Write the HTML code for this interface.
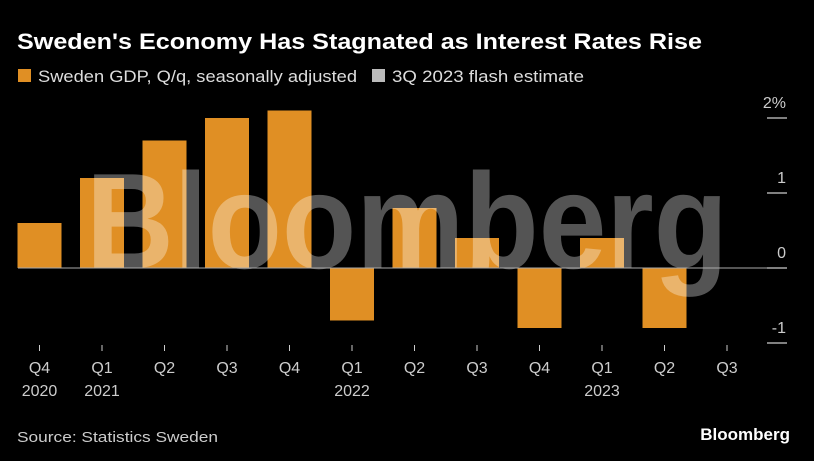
<!DOCTYPE html>
<html><head><meta charset="utf-8"><style>
body{margin:0;background:#000;width:814px;height:461px;overflow:hidden;font-family:"Liberation Sans",sans-serif;color:#fff}
</style></head><body>
<svg width="814" height="461" style="position:absolute;left:0;top:0">
<text x="17" y="49" font-size="22" font-weight="bold" fill="#fff" textLength="685" lengthAdjust="spacingAndGlyphs">Sweden's Economy Has Stagnated as Interest Rates Rise</text>
<rect x="18" y="69" width="13" height="13" fill="#e08f24"/>
<text x="38" y="82" font-size="17" fill="#ddd" textLength="319" lengthAdjust="spacingAndGlyphs">Sweden GDP, Q/q, seasonally adjusted</text>
<rect x="372" y="69" width="13" height="13" fill="#bbb"/>
<text x="392" y="82" font-size="17" fill="#ddd" textLength="192" lengthAdjust="spacingAndGlyphs">3Q 2023 flash estimate</text>
<g id="bars"></g>
<text x="86" y="268" font-size="136" font-weight="bold" fill="#fff" fill-opacity="0.33" textLength="642" lengthAdjust="spacingAndGlyphs">Bloomberg</text>
<g id="axis"></g>
<text x="17" y="442" font-size="15" fill="#ccc" textLength="201" lengthAdjust="spacingAndGlyphs">Source: Statistics Sweden</text>
<text x="790" y="440" font-size="17" font-weight="bold" fill="#fff" text-anchor="end">Bloomberg</text>
</svg>
<script>
const quarters=["Q4","Q1","Q2","Q3","Q4","Q1","Q2","Q3","Q4","Q1","Q2","Q3"];
const years=["2020","2021","","","","2022","","","","2023","",""];
const gdp=[0.6,1.2,1.7,2.0,2.1,-0.7,0.8,0.4,-0.8,0.4,-0.8,null];
const yTicks=[2,1,0,-1];
const yLabels=["2%","1","0","-1"];
const NS="http://www.w3.org/2000/svg";
const y=v=>268-v*75;
const xc=i=>39.5+i*62.5;
function mk(t,a,p){const e=document.createElementNS(NS,t);for(const k in a)e.setAttribute(k,a[k]);p.appendChild(e);return e;}
const bars=document.getElementById('bars'),axis=document.getElementById('axis');
gdp.forEach((v,i)=>{
 if(v===null)return;
 const r=mk('rect',{x:xc(i)-22,y:Math.min(y(v),y(0)),width:44,height:Math.abs(y(v)-y(0)),fill:'#e08f24'},bars);
 
 
});
const zl=mk('line',{x1:18,x2:787,y1:y(0),y2:y(0),stroke:'#aaa','stroke-width':1},axis);


yTicks.forEach((v,i)=>{
 const l=mk('line',{x1:767,x2:787,y1:y(v),y2:y(v),stroke:'#ccc','stroke-width':1.2},axis);
 
 
 const t=mk('text',{x:786,y:y(v)-10,'font-size':16,fill:'#ccc','text-anchor':'end'},axis);
 t.textContent=yLabels[i];
 
 
});
quarters.forEach((q,i)=>{
 const l=mk('line',{x1:xc(i),x2:xc(i),y1:345,y2:351,stroke:'#ccc','stroke-width':1},axis);
 
 
 const t=mk('text',{x:xc(i),y:373,'font-size':16,fill:'#ccc','text-anchor':'middle'},axis);
 t.textContent=q;
 
 
 if(years[i]){
  const yt=mk('text',{x:xc(i),y:396,'font-size':16,fill:'#ccc','text-anchor':'middle'},axis);
  yt.textContent=years[i];
  
  
 }
});
</script>
</body></html>
